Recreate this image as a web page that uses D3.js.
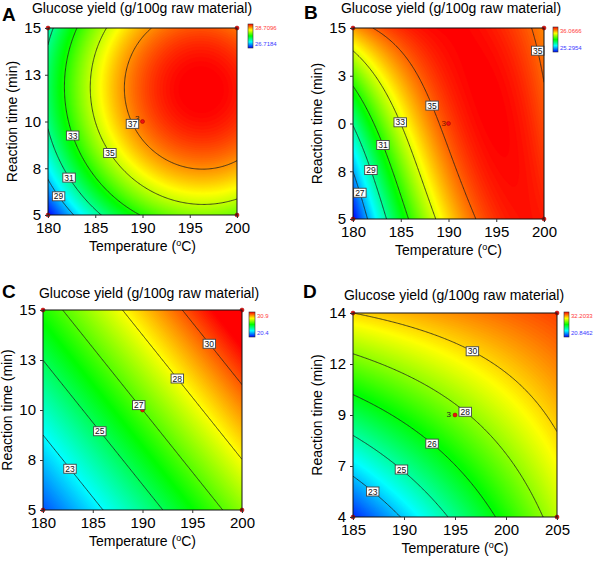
<!DOCTYPE html>
<html><head><meta charset="utf-8">
<script src="https://cdn.jsdelivr.net/npm/d3@7"></script>
<style>body{margin:0;background:#fff;} svg{display:block;font-family:Arial,"Liberation Sans",sans-serif;}</style>
</head><body><svg id="chart" width="600" height="561"></svg>
<script>
// ---------------- DATA ----------------
const titleText = "Glucose yield (g/100g raw material)";
const yAxisTitle = "Reaction time (min)";
const rampColors = ["#0000ff", "#00ffff", "#00ff00", "#ffff00", "#ff0000"];

// Panel A
const tempNodesA = [180, 190, 200];
const timeNodesA = [5, 10, 15];
const yieldGridA = [ // rows: time 5,10,15 ; cols: temperature 180,190,200
  [26.71, 33.10, 33.91],
  [31.16, 37.45, 38.16],
  [30.51, 36.70, 37.31]
];
const contourLevelsA = [29, 31, 33, 35, 37];
const labelLevelsA = [29, 31, 33, 35, 37];
const labelTextsA = ["29", "31", "33", "35", "37"];
const tempTicksA = [180, 185, 190, 195, 200];
const timeTicksA = [5, 7.5, 10, 12.5, 15];
const timeTickLabelsA = ["5", "8", "10", "13", "15"];
const legendRangeA = [26.7184, 38.7096];
const legendTextsA = ["38.7096", "26.7184"];
const designPointsA = [[180, 5], [180, 15], [200, 5], [200, 15], [190, 10]];

// Panel B
const tempNodesB = [180, 190, 200];
const timeNodesB = [5, 10, 15];
const yieldGridB = [
  [25.30, 33.76, 35.80],
  [29.10, 35.33, 35.26],
  [34.40, 36.07, 34.64]
];
const contourLevelsB = [27, 29, 31, 33, 35];
const labelLevelsB = [27, 29, 31, 33, 35, 35];
const labelTextsB = ["27", "29", "31", "33", "35", "35"];
const tempTicksB = [180, 185, 190, 195, 200];
const timeTicksB = [5, 7.5, 10, 12.5, 15];
const timeTickLabelsB = ["5", "8", "0", "3", "15"];
const legendRangeB = [25.2954, 36.0666];
const legendTextsB = ["36.0666", "25.2954"];
const designPointsB = [[180, 5], [180, 15], [200, 5], [200, 15], [190, 10]];

// Panel C
const tempNodesC = [180, 190, 200];
const timeNodesC = [5, 10, 15];
const yieldGridC = [
  [21.245, 24.155, 27.065],
  [23.585, 26.495, 29.405],
  [25.925, 28.835, 31.745]
];
const contourLevelsC = [23, 24.75, 26.5, 28.25, 30];
const labelLevelsC = [23, 24.75, 26.5, 28.25, 30];
const labelTextsC = ["23", "25", "27", "28", "30"];
const tempTicksC = [180, 185, 190, 195, 200];
const timeTicksC = [5, 7.5, 10, 12.5, 15];
const timeTickLabelsC = ["5", "8", "10", "13", "15"];
const legendRangeC = [20.4, 30.9];
const legendTextsC = ["30.9", "20.4"];
const designPointsC = [[180, 5], [180, 15], [200, 5], [200, 15], [190, 10]];

// Panel D
const tempNodesD = [185, 195, 205];
const timeNodesD = [4, 9, 14];
const yieldGridD = [
  [21.30, 24.95, 28.60],
  [25.55, 27.79, 30.035],
  [29.80, 30.635, 31.47]
];
const contourLevelsD = [23, 24.7, 26.4, 28.1, 29.8];
const labelLevelsD = [23, 24.7, 26.4, 28.1, 29.8];
const labelTextsD = ["23", "25", "26", "28", "30"];
const tempTicksD = [185, 190, 195, 200, 205];
const timeTicksD = [4, 6.5, 9, 11.5, 14];
const timeTickLabelsD = ["4", "7", "9", "12", "14"];
const legendRangeD = [20.8462, 32.2033];
const legendTextsD = ["32.2033", "20.8462"];
const designPointsD = [[185, 4], [185, 14], [205, 4], [205, 14], [195, 9]];

const replicateText = "3";

// ---------------- LAYOUT ----------------
const panels = [
  { id: "A", tempNodes: tempNodesA, timeNodes: timeNodesA, grid: yieldGridA, levels: contourLevelsA,
    labelLevels: labelLevelsA, labelTexts: labelTextsA, tempTicks: tempTicksA, timeTicks: timeTicksA,
    timeTickLabels: timeTickLabelsA, legendRange: legendRangeA, legendTexts: legendTextsA, points: designPointsA,
    plot: { x: 48, y: 28, w: 189, h: 187 }, titleX: 142, titleY: 12.5, letter: { x: 2, y: 21 },
    legend: { x: 248, y: 24, w: 5, h: 24 },
    anchors: [[181, 6.0], [182.2, 7.0], [182.4, 9.2], [186.6, 8.3], [188.9, 9.86]],
    rep: { dx: -3, dy: -1, color: "#3a2a10" } },
  { id: "B", tempNodes: tempNodesB, timeNodes: timeNodesB, grid: yieldGridB, levels: contourLevelsB,
    labelLevels: labelLevelsB, labelTexts: labelTextsB, tempTicks: tempTicksB, timeTicks: timeTicksB,
    timeTickLabels: timeTickLabelsB, legendRange: legendRangeB, legendTexts: legendTextsB, points: designPointsB,
    plot: { x: 353, y: 28, w: 191, h: 191 }, titleX: 451, titleY: 13, letter: { x: 304, y: 19 },
    legend: { x: 553, y: 27, w: 5, h: 25 },
    anchors: [[180.9, 6.4], [181.9, 7.6], [183.1, 8.85], [185.0, 10.07], [188.1, 10.9], [199.2, 13.8]],
    rep: { dx: -2.5, dy: 2, color: "#7a1000" } },
  { id: "C", tempNodes: tempNodesC, timeNodes: timeNodesC, grid: yieldGridC, levels: contourLevelsC,
    labelLevels: labelLevelsC, labelTexts: labelTextsC, tempTicks: tempTicksC, timeTicks: timeTicksC,
    timeTickLabels: timeTickLabelsC, legendRange: legendRangeC, legendTexts: legendTextsC, points: designPointsC,
    plot: { x: 43, y: 310, w: 199, h: 200 }, titleX: 149, titleY: 297.5, letter: { x: 2, y: 298 },
    legend: { x: 249, y: 312, w: 6, h: 25 },
    anchors: [[182.95, 7.17], [185.96, 9.03], [189.88, 10.3], [193.7, 11.67], [196.98, 13.45]],
    rep: { dx: -3, dy: 0, color: "#222" } },
  { id: "D", tempNodes: tempNodesD, timeNodes: timeNodesD, grid: yieldGridD, levels: contourLevelsD,
    labelLevels: labelLevelsD, labelTexts: labelTextsD, tempTicks: tempTicksD, timeTicks: timeTicksD,
    timeTickLabels: timeTickLabelsD, legendRange: legendRangeD, legendTexts: legendTextsD, points: designPointsD,
    plot: { x: 353, y: 313, w: 204, h: 204 }, titleX: 454, titleY: 299.5, letter: { x: 303, y: 298 },
    legend: { x: 564, y: 312, w: 5, h: 25 },
    anchors: [[187.2, 5.39], [190.0, 6.52], [193.0, 7.74], [196.2, 9.31], [196.9, 12.3]],
    rep: { dx: -4, dy: 1.5, color: "#222" } }
];

// ---------------- DRAW ----------------
const svg = d3.select("#chart");
const defs = svg.append("defs");
const FONT = "Arial, 'Liberation Sans', sans-serif";

function renderPanel(P) {
  const { w, h } = P.plot;
  const root = svg.append("g");
  const g = root.append("g").attr("transform", `translate(${P.plot.x},${P.plot.y})`);
  const x0 = P.tempNodes[0], x1 = P.tempNodes[2], y0 = P.timeNodes[0], y1 = P.timeNodes[2];
  const x = d3.scaleLinear().domain([x0, x1]).range([0, w]);
  const y = d3.scaleLinear().domain([y0, y1]).range([h, 0]);
  const lr = P.legendRange;
  const color = d3.scaleLinear()
    .domain(d3.range(5).map(k => lr[0] + k / 4 * (lr[1] - lr[0])))
    .range(rampColors).clamp(true);

  const L = q => [q * (q - 1) / 2, 1 - q * q, q * (q + 1) / 2];
  const field = (T, t) => {
    const s = (T - P.tempNodes[1]) / ((x1 - x0) / 2);
    const r = (t - P.timeNodes[1]) / ((y1 - y0) / 2);
    const Ls = L(s), Lr = L(r);
    let v = 0;
    for (let i = 0; i < 3; i++) for (let j = 0; j < 3; j++) v += Lr[i] * Ls[j] * P.grid[i][j];
    return v;
  };
  const N = 161;
  const vals = new Float64Array(N * N);
  for (let j = 0; j < N; j++) {
    const t = y1 - j / (N - 1) * (y1 - y0);
    for (let i = 0; i < N; i++) {
      const T = x0 + i / (N - 1) * (x1 - x0);
      vals[j * N + i] = field(T, t);
    }
  }
  const toPx = (px, py) => [x(x0 + (px - 0.5) / (N - 1) * (x1 - x0)), y(y1 - (py - 0.5) / (N - 1) * (y1 - y0))];
  const proj = d3.geoTransform({ point: function (px, py) { const p = toPx(px, py); this.stream.point(p[0], p[1]); } });
  const path = d3.geoPath(proj);

  const clipId = "clip" + P.id;
  defs.append("clipPath").attr("id", clipId).append("rect").attr("x", 0).attr("y", 0).attr("width", w).attr("height", h);

  const [vmin, vmax] = d3.extent(vals);
  const nb = 160, step = (vmax - vmin) / nb;
  const thr = d3.range(nb).map(k => vmin - 1e-9 + k * step);
  const bands = d3.contours().size([N, N]).thresholds(thr)(vals);
  const fg = g.append("g").attr("clip-path", `url(#${clipId})`);
  fg.append("g").selectAll("path").data(bands).join("path")
    .attr("d", path)
    .attr("fill", d => color(d.value + step / 2))
    .attr("stroke", d => color(d.value + step / 2))
    .attr("stroke-width", 0.6);

  const lines = d3.contours().size([N, N]).thresholds(P.levels)(vals);
  fg.append("g").selectAll("path").data(lines).join("path")
    .attr("d", path).attr("fill", "none").attr("stroke", "#1e1e1e").attr("stroke-width", 0.8);

  // design points
  P.points.forEach((pt, k) => {
    const cx = x(pt[0]), cy = y(pt[1]);
    if (k === P.points.length - 1) {
      g.append("text").attr("x", cx + P.rep.dx).attr("y", cy + P.rep.dy)
        .attr("text-anchor", "end").attr("font-size", 8).attr("font-family", FONT)
        .attr("fill", P.rep.color).text(replicateText);
    }
    g.append("circle").attr("cx", cx).attr("cy", cy).attr("r", 2)
      .attr("fill", "#ee1010").attr("stroke", "#900").attr("stroke-width", 0.5);
  });

  // contour labels
  P.labelLevels.forEach((lev, k) => {
    const c = lines.find(d => Math.abs(d.value - lev) < 1e-9);
    const ax = x(P.anchors[k][0]), ay = y(P.anchors[k][1]);
    let best = [ax, ay], bd = Infinity;
    if (c) c.coordinates.forEach(poly => poly.forEach(ring => ring.forEach(p => {
      const q = toPx(p[0], p[1]);
      if (q[0] < 1 || q[0] > w - 1 || q[1] < 1 || q[1] > h - 1) return;
      const dd = (q[0] - ax) ** 2 + (q[1] - ay) ** 2;
      if (dd < bd) { bd = dd; best = q; }
    })));
    const lg = g.append("g").attr("transform", `translate(${best[0]},${best[1]})`);
    const rect = lg.append("rect");
    const tx = lg.append("text").attr("text-anchor", "middle").attr("y", 3)
      .attr("font-size", 8.5).attr("font-family", FONT).attr("fill", "#111").text(P.labelTexts[k]);
    const tw = tx.node().getComputedTextLength();
    rect.attr("x", -tw / 2 - 1.5).attr("y", -4.5).attr("width", tw + 3).attr("height", 9)
      .attr("fill", "#fff").attr("stroke", "#444").attr("stroke-width", 0.9);
  });

  // border
  g.append("rect").attr("x", 0).attr("y", 0).attr("width", w).attr("height", h)
    .attr("fill", "none").attr("stroke", "#111").attr("stroke-width", 1);

  // axes
  const xa = g.append("g").attr("transform", `translate(0,${h})`)
    .call(d3.axisBottom(x).tickValues(P.tempTicks).tickSize(3).tickPadding(4.5).tickFormat(d3.format("d")));
  const ya = g.append("g")
    .call(d3.axisLeft(y).tickValues(P.timeTicks).tickSize(3).tickPadding(4).tickFormat((d, i) => P.timeTickLabels[i]));
  [xa, ya].forEach(a => {
    a.select(".domain").remove();
    a.attr("font-size", 15).attr("font-family", FONT);
    a.selectAll("text").attr("fill", "#000");
    a.selectAll("line").attr("stroke", "#333");
  });

  // axis titles
  const xt = g.append("text").attr("x", w / 2).attr("y", h + 36).attr("text-anchor", "middle")
    .attr("font-size", 14).attr("font-family", FONT).attr("fill", "#000");
  xt.append("tspan").text("Temperature (");
  xt.append("tspan").attr("dy", -5).attr("font-size", 9).text("o");
  xt.append("tspan").attr("dy", 5).text("C)");
  g.append("text").attr("transform", `translate(-31,${h / 2}) rotate(-90)`).attr("text-anchor", "middle")
    .attr("font-size", 14).attr("font-family", FONT).attr("fill", "#000").text(yAxisTitle);

  // title and letter
  root.append("text").attr("x", P.titleX).attr("y", P.titleY).attr("text-anchor", "middle")
    .attr("font-size", 14).attr("font-family", FONT).attr("fill", "#000").text(titleText);
  root.append("text").attr("x", P.letter.x).attr("y", P.letter.y)
    .attr("font-size", 19).attr("font-weight", "bold").attr("font-family", FONT).attr("fill", "#000").text(P.id);

  // legend bar
  const gid = "grad" + P.id;
  const grad = defs.append("linearGradient").attr("id", gid).attr("x1", 0).attr("y1", 1).attr("x2", 0).attr("y2", 0);
  rampColors.forEach((c, k) => grad.append("stop").attr("offset", k / 4).attr("stop-color", c));
  root.append("rect").attr("x", P.legend.x).attr("y", P.legend.y).attr("width", P.legend.w).attr("height", P.legend.h)
    .attr("fill", `url(#${gid})`).attr("stroke", "#333").attr("stroke-width", 0.6);
  root.append("text").attr("x", P.legend.x + P.legend.w + 2).attr("y", P.legend.y + 6)
    .attr("font-size", 6).attr("font-family", FONT).attr("fill", "#ff3a3a").text(P.legendTexts[0]);
  root.append("text").attr("x", P.legend.x + P.legend.w + 2).attr("y", P.legend.y + P.legend.h - 2)
    .attr("font-size", 6).attr("font-family", FONT).attr("fill", "#3a3aff").text(P.legendTexts[1]);
}

panels.forEach(renderPanel);
</script>
</body></html>
